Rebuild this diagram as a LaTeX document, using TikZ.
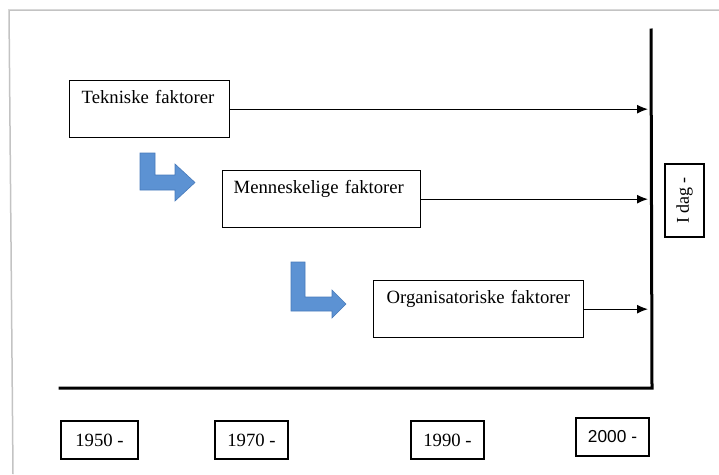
\documentclass[tikz,border=0pt]{standalone}
\usepackage{fontspec}
\setmainfont{Liberation Serif}
\newfontfamily\yearsans{Liberation Sans}
\usetikzlibrary{arrows.meta}

\definecolor{framegray}{RGB}{195,195,195}
\definecolor{stepblue}{RGB}{92,146,211}
\definecolor{stepedge}{RGB}{72,122,186}

\tikzset{
  lbl/.style={font=\fontsize{18.7}{21}\selectfont},
  factorbox/.style={draw, line width=1.3pt, anchor=north west, lbl,
    align=left, inner xsep=12pt, inner ysep=5pt,
    text height=18pt, text depth=29pt},
  yearbox/.style={draw, line width=1.3pt, lbl, minimum height=38pt,
    inner sep=0pt},
  timeline/.style={line width=3pt, line cap=rect},
  toaxis/.style={line width=1.2pt, -{Latex[length=11pt,width=9pt]}, shorten >=3pt},
  turnarrow/.style={fill=stepblue, draw=stepedge, line width=0.6pt, line join=miter}
}

\begin{document}
\begin{tikzpicture}[x=1pt, y=-1pt]
  \useasboundingbox (0,0) rectangle (719,474);

  % outer page frame
  \draw[framegray, line width=1.5pt] (719,10) -- (9,10) -- (13,474);

  % time axes
  \coordinate (axtop) at (651,30);
  \coordinate (axcorner) at (652,388);
  \coordinate (axleft) at (60,388);
  \draw[timeline] (axtop) -- (axcorner) -- (axleft);

  % factor boxes
  \node[factorbox, text width=136pt] (tek) at (69,80) {Tekniske faktorer};
  \node[factorbox, text width=176pt, inner xsep=11pt] (men) at (222,170) {Menneskelige faktorer};
  \node[factorbox, text width=184pt, inner xsep=13pt] (org) at (373,280) {Organisatoriske faktorer};

  % arrows to the present
  \draw[toaxis] (tek.east) -- (tek.east -| axtop);
  \draw[toaxis] (men.east) -- (men.east -| axtop);
  \draw[toaxis] (org.east) -- (org.east -| axtop);

  % bent step arrows
  \draw[turnarrow] (140,153) -- (155,153) -- (155,175) -- (175,175) -- (175,164)
    -- (195,182.5) -- (175,201) -- (175,190) -- (140,190) -- cycle;
  \draw[turnarrow] (291,262) -- (305,262) -- (305,297) -- (332,297) -- (332,290)
    -- (346,304) -- (332,318) -- (332,311) -- (291,311) -- cycle;

  % present marker
  \node[yearbox, rotate=90, minimum width=73pt, minimum height=39pt,
        font=\fontsize{18}{20}\selectfont] (idag) at (684.5,200.5) {I dag -};

  % year boxes
  \node[yearbox, minimum width=77pt] (y1950) at (99.5,440) {1950 -};
  \node[yearbox, minimum width=73pt] (y1970) at (251.5,440) {1970 -};
  \node[yearbox, minimum width=73pt] (y1990) at (447.5,440) {1990 -};
  \node[yearbox, minimum width=73pt, font=\yearsans\fontsize{17.3}{20}\selectfont] (y2000) at (612.5,437) {2000 -};
\end{tikzpicture}
\end{document}
